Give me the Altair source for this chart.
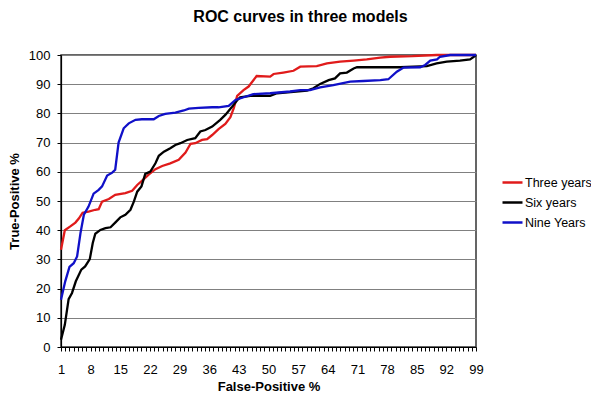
import altair as alt
import pandas as pd

# ---- data ----
series_names = ["Three years", "Six years", "Nine Years"]
series_colors = ["#e01b1b", "#000000", "#1010c8"]

three_x = [1, 1.9, 3.2, 4.4, 5.2, 6.1, 7.5, 9.1, 9.9, 10.7, 12.3, 13.8, 16.2, 17.8, 19, 20.1, 21.7,
           23.3, 24.9, 26.8, 28.8, 30.4, 31.6, 32.7, 34.3, 35.5, 36.7, 38.2, 39.8, 41, 41.8, 42.6,
           44.1, 45.3, 47.2, 50.4, 51.2, 53.5, 55.9, 57.5, 61.4, 63.8, 66.9, 70.1, 73.2, 76.4, 78.7,
           84, 89.7, 99]
three_y = [33.3, 40, 41.3, 42.6, 44, 46, 46.4, 47, 47.2, 49.8, 50.7, 52.1, 52.7, 53.5, 55.5, 56.9, 59,
           60.9, 62, 62.9, 64.1, 66.6, 69.6, 69.8, 70.9, 71.2, 72.6, 74.6, 76.4, 78.7, 81.8, 86,
           88, 89.2, 92.8, 92.6, 93.5, 94, 94.6, 96, 96.2, 97.1, 97.7, 98.1, 98.5, 99.1, 99.4,
           99.6, 100, 100]

six_x = [1, 1.9, 2.8, 3.6, 4.5, 5.8, 6.7, 7.8, 8.5, 9.1, 10.3, 11.5, 12.7, 13.8, 15, 16.2, 17.4, 18.2,
         19, 20, 20.9, 22.1, 23.3, 24.1, 25.3, 26.8, 28, 29.2, 30.8, 32.7, 33.9, 35.1, 36.7, 38.6,
         39.8, 41.4, 42.6, 43.3, 45.7, 50.4, 52, 59.1, 60.6, 62.2, 64.2, 65.7, 66.9, 68.5, 70.1,
         70.9, 81.1, 87.4, 89.7, 92.1, 95.2, 97.6, 98.8, 99]
six_y = [2.5, 7.6, 16.4, 18.5, 22.5, 26.5, 27.6, 30.1, 35.6, 38.8, 40.1, 40.7, 41, 42.6, 44.4, 45.3, 47,
         49.8, 53.2, 55, 59.3, 60.1, 62.9, 65.5, 66.9, 68.1, 69.2, 69.8, 70.9, 71.5, 73.8, 74.3,
         75.5, 77.8, 79.5, 82.3, 84.5, 85.5, 86, 86, 86.9, 87.8, 88.6, 90.1, 91.4, 92, 93.7, 94,
         95.4, 95.8, 95.8, 96.2, 97.1, 97.7, 98.1, 98.5, 99.7, 100]

nine_x = [1, 2, 3, 4, 4.8, 5.6, 6.4, 7.5, 8.7, 9.9, 10.7, 11.9, 13.1, 13.8, 14.6, 15.8, 17, 18.6, 20.1,
          22.9, 24.1, 25.6, 28, 30, 31.2, 33.5, 36.7, 38.2, 40.6, 42.2, 44.5, 46.4, 50.4, 55.1,
          57.5, 59.8, 62.2, 65.3, 69.3, 72.4, 76.4, 78.3, 80.3, 81.9, 85.8, 87, 88.2, 89.8, 90.5,
          92.9, 99]
nine_y = [16.2, 22.5, 27.4, 28.7, 31, 39, 45.3, 48.1, 52.5, 53.8, 55, 58.7, 59.7, 60.7, 70, 74.9, 76.6,
          77.8, 78, 78, 79.1, 79.8, 80.3, 81, 81.6, 81.9, 82.1, 82.1, 82.6, 84.6, 85.7, 86.6, 86.9,
          87.5, 88, 88, 88.9, 89.7, 90.9, 91.1, 91.4, 91.7, 94.3, 95.7, 95.8, 96.6, 98.1, 98.5,
          99.4, 100, 100]

x_tick_values = list(range(1, 100))
y_tick_values = list(range(0, 101, 10))

rows = []
for name, xs, ys in zip(series_names, [three_x, six_x, nine_x], [three_y, six_y, nine_y]):
    for i, (xv, yv) in enumerate(zip(xs, ys)):
        rows.append({"series": name, "fp": xv, "tp": yv, "order": i})
df = pd.DataFrame(rows)

FONT = "Liberation Sans"

chart = alt.Chart(df).mark_line(strokeWidth=2.3).encode(
    x=alt.X(
        "fp:Q",
        scale=alt.Scale(domain=[1, 99], nice=False, zero=False),
        axis=alt.Axis(
            title="False-Positive %",
            values=x_tick_values,
            labelExpr="(datum.value - 1) % 7 == 0 ? datum.label : ''",
            labelOverlap=False,
            labelFlush=False,
            grid=False,
            tickSize=4,
            tickColor="#000000",
            domainColor="#000000",
            labelPadding=12,
            titlePadding=4,
        ),
    ),
    y=alt.Y(
        "tp:Q",
        scale=alt.Scale(domain=[0, 100], nice=False),
        axis=alt.Axis(
            title="True-Positive %",
            values=y_tick_values,
            grid=True,
            gridColor="#808080",
            gridWidth=1,
            tickSize=4,
            tickColor="#000000",
            domainColor="#000000",
            labelPadding=7,
            titlePadding=7,
        ),
    ),
    color=alt.Color(
        "series:N",
        scale=alt.Scale(domain=series_names, range=series_colors),
        legend=alt.Legend(
            title=None,
            orient="none",
            legendX=440,
            legendY=116,
            symbolType="stroke",
            symbolSize=400,
            symbolStrokeWidth=2.5,
            labelFontSize=12.5,
            labelFont=FONT,
            labelColor="#000000",
            labelOffset=1,
            rowPadding=2,
            padding=0,
        ),
    ),
    order="order:Q",
).properties(
    width=415,
    height=292,
    title=alt.TitleParams(
        "ROC curves in three models",
        font=FONT,
        fontSize=16,
        fontWeight="bold",
        color="#000000",
        anchor="middle",
        dx=32,
        offset=24,
    ),
    autosize=alt.AutoSizeParams(type="none"),
    padding={"left": 53, "top": 47, "right": 115, "bottom": 50},
).configure_view(
    stroke="#333333",
    strokeWidth=1.5,
).configure_axis(
    labelFont=FONT,
    labelFontSize=13,
    labelColor="#000000",
    titleFont=FONT,
    titleFontSize=13,
    titleFontWeight="bold",
    titleColor="#000000",
    domainWidth=1.2,
)

chart.save("out.html", embed_options={"renderer": "svg", "actions": False})
